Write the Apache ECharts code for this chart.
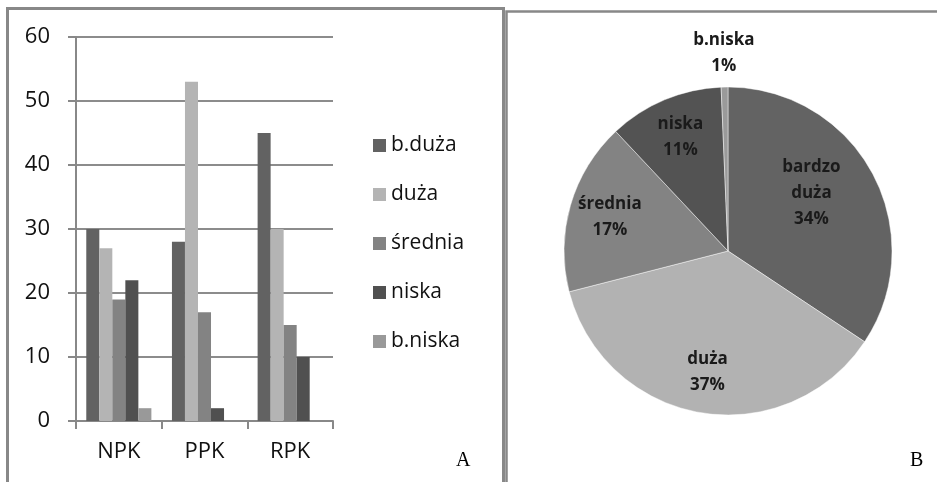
<!DOCTYPE html>
<html>
<head>
<meta charset="utf-8">
<script src="https://cdn.jsdelivr.net/npm/echarts@6/dist/echarts.min.js"></script>
<style>
html,body{margin:0;padding:0;background:#fff;}
#main{width:937px;height:482px;}
</style>
</head>
<body>
<div id="main"></div>
<script>
// dane - wykres A (slupki)
var categories = ['NPK', 'PPK', 'RPK'];
var seriesNames = ['b.duża', 'duża', 'średnia', 'niska', 'b.niska'];
var bDuza   = [30, 28, 45];
var duza    = [27, 53, 30];
var srednia = [19, 17, 15];
var niska   = [22, 2, 10];
var bNiska  = [2, 0, 0];
var yTicks = [0, 60, 10]; // min, max, interval

// dane - wykres B (kolo)
var pieNames  = ['bardzo\nduża', 'duża', 'średnia', 'niska', 'b.niska'];
var pieValues = [103, 110, 51, 34, 2];

var barColors = ['#626262', '#b4b4b4', '#838383', '#505050', '#999999'];
var pieColors = ['#636363', '#b2b2b2', '#838383', '#535353', '#9a9a9a'];
var font = 'Open Sans';

var myChart = echarts.init(document.getElementById('main'));

var barData = [bDuza, duza, srednia, niska, bNiska];
var barSeries = seriesNames.map(function (n, i) {
  return {
    name: n,
    type: 'bar',
    barGap: 0,
    barCategoryGap: '24%',
    itemStyle: {color: barColors[i]},
    data: barData[i]
  };
});

function pieItems(showIdx, extra) {
  return pieNames.map(function (n, i) {
    var it = {name: n, value: pieValues[i]};
    if (showIdx) {
      it.label = {show: showIdx.indexOf(i) >= 0};
      if (extra && extra[i]) Object.assign(it.label, extra[i]);
    }
    return it;
  });
}

var labelStyle = {
  position: 'inner',
  formatter: '{b}\n{d}%',
  fontFamily: font,
  fontSize: 17,
  fontWeight: 'bold',
  lineHeight: 26,
  color: '#1a1a1a'
};

var option = {
  animation: false,
  backgroundColor: '#fff',
  title: [
    {text: 'A', left: 456, top: 451, padding: 0,
     textStyle: {fontFamily: 'Liberation Serif', fontSize: 20, fontWeight: 'normal', color: '#000'}},
    {text: 'B', left: 910, top: 451, padding: 0,
     textStyle: {fontFamily: 'Liberation Serif', fontSize: 20, fontWeight: 'normal', color: '#000'}}
  ],
  graphic: [
    {type: 'rect', shape: {x: 7.5, y: 8.5, width: 496, height: 520},
     style: {fill: 'none', stroke: '#888', lineWidth: 3}},
    {type: 'rect', shape: {x: 506.5, y: 11.5, width: 520, height: 520},
     style: {fill: 'none', stroke: '#888', lineWidth: 2.5}}
  ],
  legend: {
    data: seriesNames,
    orient: 'vertical',
    left: 373,
    top: 135,
    padding: 0,
    itemWidth: 13,
    itemHeight: 13,
    itemGap: 28,
    icon: 'rect',
    textStyle: {fontFamily: font, fontSize: 21, color: '#111'}
  },
  grid: {left: 76, top: 37, width: 257, height: 384},
  xAxis: {
    type: 'category',
    data: categories,
    axisLine: {lineStyle: {color: '#888', width: 2}},
    axisTick: {show: true, length: 8, lineStyle: {color: '#888', width: 2}},
    axisLabel: {margin: 20, fontFamily: font, fontSize: 22, color: '#111'}
  },
  yAxis: {
    type: 'value',
    min: yTicks[0],
    max: yTicks[1],
    interval: yTicks[2],
    axisLine: {show: true, lineStyle: {color: '#888', width: 2}},
    axisTick: {show: true, length: 8, lineStyle: {color: '#888', width: 2}},
    splitLine: {lineStyle: {color: '#8c8c8c', width: 2}},
    axisLabel: {margin: 26, fontFamily: font, fontSize: 22, color: '#111'}
  },
  series: barSeries.concat([
    {
      name: 'kolo',
      type: 'pie',
      center: [728, 251],
      radius: [0, 164],
      startAngle: 90,
      clockwise: true,
      silent: true,
      label: {show: false},
      labelLine: {show: false},
      itemStyle: {borderColor: 'rgba(255,255,255,0.45)', borderWidth: 1},
      color: pieColors,
      data: pieItems()
    },
    {
      // tylko etykiety wewnatrz kola
      name: 'etykiety',
      type: 'pie',
      center: [728, 251],
      radius: [0, 240],
      startAngle: 90,
      silent: true,
      percentPrecision: 0,
      avoidLabelOverlap: false,
      itemStyle: {color: 'rgba(0,0,0,0)'},
      label: Object.assign({show: false}, labelStyle),
      labelLine: {show: false},
      data: pieItems([0, 1, 2, 3], {0: {padding: [0, 50, 0, 0]}, 3: {padding: [0, 0, 8, 0]}})
    },
    {
      // etykieta b.niska nad kolem
      name: 'etykiety2',
      type: 'pie',
      center: [728, 251],
      radius: [0, 390],
      startAngle: 90,
      silent: true,
      percentPrecision: 0,
      avoidLabelOverlap: false,
      itemStyle: {color: 'rgba(0,0,0,0)'},
      label: Object.assign({show: false}, labelStyle),
      labelLine: {show: false},
      data: pieItems([4])
    }
  ])
};

myChart.setOption(option);
window.addEventListener('resize', function () {
  myChart.resize();
});
</script>
</body>
</html>
